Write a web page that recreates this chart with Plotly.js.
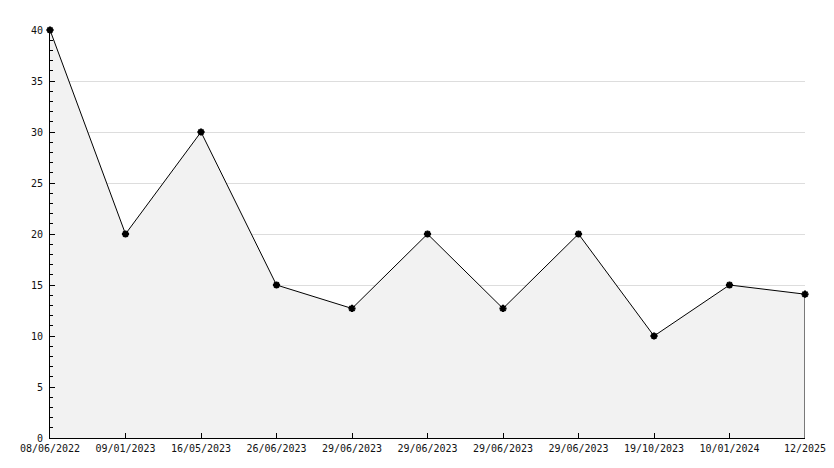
<!DOCTYPE html>
<html>
<head>
<meta charset="utf-8">
<script src="https://cdn.plot.ly/plotly-3.0.1.min.js"></script>
<style>html,body{margin:0;padding:0;background:#fff;}#chart{width:834px;height:468px;}</style>
</head>
<body>
<div id="chart"></div>
<script>
const dateLabels = ["08/06/2022","09/01/2023","16/05/2023","26/06/2023","29/06/2023","29/06/2023","29/06/2023","29/06/2023","19/10/2023","10/01/2024","12/2025"];
const values = [40, 20, 30, 15, 12.7, 20, 12.7, 20, 10, 15, 14.1];
const positions = dateLabels.map((_, i) => i);
const lastIdx = positions.length - 1;

const traces = [
  {
    x: positions, y: values, type: 'scatter', mode: 'lines+markers',
    fill: 'tozeroy', fillcolor: '#f2f2f2',
    line: {color: '#000', width: 1},
    marker: {symbol: 'asterisk-open', size: 6, color: '#000', line: {color: '#000', width: 2}},
    hoverinfo: 'skip', cliponaxis: false
  },
  {
    x: [positions[lastIdx], positions[lastIdx]], y: [0, values[lastIdx]],
    type: 'scatter', mode: 'lines', line: {color: '#000', width: 1}, hoverinfo: 'skip'
  }
];

const layout = {
  width: 834, height: 468,
  margin: {l: 50, r: 29, t: 30, b: 30},
  paper_bgcolor: '#fff', plot_bgcolor: '#fff',
  showlegend: false,
  font: {family: 'DejaVu Sans Mono', size: 10, color: '#111'},
  xaxis: {
    range: [0, lastIdx], tickmode: 'array', tickvals: positions, ticktext: dateLabels,
    ticks: 'inside', ticklen: 5, tickcolor: '#000', showgrid: false, zeroline: false,
    showline: true, linecolor: '#000', linewidth: 1, tickangle: 0, fixedrange: true,
    ticklabelstandoff: 1
  },
  yaxis: {
    range: [0, 40], dtick: 5, tick0: 0, ticks: 'inside', ticklen: 5, tickcolor: '#000',
    showgrid: true, gridcolor: '#dddddd', gridwidth: 1, zeroline: false,
    showline: true, linecolor: '#000', linewidth: 1, ticklabelstandoff: 4,
    minor: {dtick: 1, ticks: 'inside', ticklen: 3, tickcolor: '#000', showgrid: false},
    fixedrange: true
  }
};

Plotly.newPlot('chart', traces, layout, {staticPlot: true, displayModeBar: false});
</script>
</body>
</html>
